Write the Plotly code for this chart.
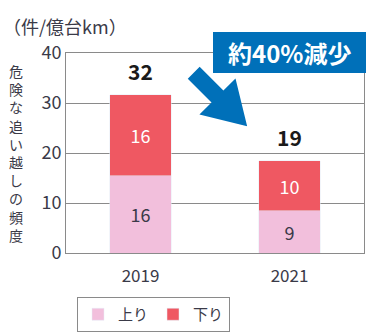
import numpy as np
import plotly.graph_objects as go

# ---- data ----
years = ["2019", "2021"]
nobori = [15.5, 8.5]          # 上り
kudari = [16.2, 10.0]         # 下り
nobori_labels = ["16", "9"]
kudari_labels = ["16", "10"]
total_labels = ["32", "19"]
series_names = ["上り", "下り"]
y_ticks = [0, 10, 20, 30, 40]
y_title = "危険な追い越しの頻度"
unit_text = "（件/億台km）"
callout_text = "約40%減少"

PINK = "#F2BFDC"
RED = "#EF5862"
BLUE = "#0070B9"
FONT = "Noto Sans CJK JP"
TXT = "#3a3a48"

W, H = 380, 334
L, R, T, B = 66, 16, 53, 81
PW, PH = W - L - R, H - T - B

def px2paper(px, py):
    return (px - L) / PW, (H - B - py) / PH

fig = go.Figure()
fig.add_trace(go.Bar(
    x=years, y=nobori, name=series_names[0], marker_color=PINK, width=0.41,
    text=nobori_labels, textposition="inside", insidetextanchor="middle",
    textfont=dict(color=TXT, size=18, family=FONT)))
fig.add_trace(go.Bar(
    x=years, y=kudari, name=series_names[1], marker_color=RED, width=0.41,
    text=kudari_labels, textposition="inside", insidetextanchor="middle",
    textfont=dict(color="white", size=18, family=FONT)))

totals = [a + b for a, b in zip(nobori, kudari)]
annotations = []
for i, (tot, lab) in enumerate(zip(totals, total_labels)):
    annotations.append(dict(x=i, y=tot, xref="x", yref="y", text=f"<b>{lab}</b>",
                            showarrow=False, yanchor="bottom", yshift=7,
                            font=dict(size=21, color="#1a1a1a", family=FONT)))

# vertical y-axis title, one character per line
xp, yp = px2paper(16, 152.5)
annotations.append(dict(x=xp, y=yp, xref="paper", yref="paper",
                        text="<br>".join(list(y_title)),
                        showarrow=False, xanchor="center", yanchor="middle",
                        font=dict(size=14, color=TXT, family=FONT)))

xp, yp = px2paper(65, 26)
annotations.append(dict(x=xp, y=yp, xref="paper", yref="paper", text=unit_text,
                        showarrow=False, xanchor="center", yanchor="middle",
                        font=dict(size=18, color=TXT, family=FONT)))

# callout box
bx0, by0 = px2paper(213, 32)
bx1, by1 = px2paper(366, 73)
shapes = [dict(type="rect", xref="paper", yref="paper", x0=bx0, x1=bx1, y0=by1, y1=by0,
               fillcolor=BLUE, line=dict(width=0), layer="above")]
cx, cy = px2paper(289.5, 52.5)
annotations.append(dict(x=cx, y=cy, xref="paper", yref="paper", text=f"<b>{callout_text}</b>",
                        showarrow=False, xanchor="center", yanchor="middle",
                        font=dict(size=24, color="white", family=FONT)))

# big arrow
Tm = np.array([193.7, 72.8])
u = np.array([1.0, 1.0]) / np.sqrt(2)
p = np.array([1.0, -1.0]) / np.sqrt(2)
shaft_len, head_len, sw, hw = 33.6, 42.0, 8.4, 25.5
pts = [Tm + sw * p, Tm + shaft_len * u + sw * p, Tm + shaft_len * u + hw * p,
       Tm + (shaft_len + head_len) * u, Tm + shaft_len * u - hw * p,
       Tm + shaft_len * u - sw * p, Tm - sw * p]
path = ""
for i, (qx, qy) in enumerate(pts):
    a, b = px2paper(qx, qy)
    path += ("M" if i == 0 else "L") + f"{a:.4f},{b:.4f} "
path += "Z"
shapes.append(dict(type="path", xref="paper", yref="paper", path=path,
                   fillcolor=BLUE, line=dict(width=0), layer="above"))

fig.update_layout(
    width=W, height=H, margin=dict(l=L, r=R, t=T, b=B, autoexpand=False),
    barmode="stack",
    plot_bgcolor="white", paper_bgcolor="white",
    font=dict(family=FONT, color=TXT),
    showlegend=True,
    legend=dict(orientation="h", xref="container", yref="container",
                x=77 / W, y=1 - 297 / H,
                xanchor="left", yanchor="top", bordercolor="#8a8a8a", borderwidth=1,
                font=dict(size=15, color=TXT, family=FONT), traceorder="normal"),
    xaxis=dict(type="category", range=[-0.5, 1.5], showgrid=False, showline=True,
               linecolor="#8a8a8a", linewidth=1, mirror=True,
               tickfont=dict(size=17, color=TXT),
               ticks="outside", ticklen=8, tickcolor="rgba(0,0,0,0)"),
    yaxis=dict(range=[0, 40], tickvals=y_ticks, showgrid=True, gridcolor="#8a8a8a",
               gridwidth=1, showline=True, linecolor="#8a8a8a", linewidth=1, mirror=True,
               tickfont=dict(size=18, color=TXT), ticks="", zeroline=False),
    annotations=annotations, shapes=shapes,
)
fig.write_html("out.html")
